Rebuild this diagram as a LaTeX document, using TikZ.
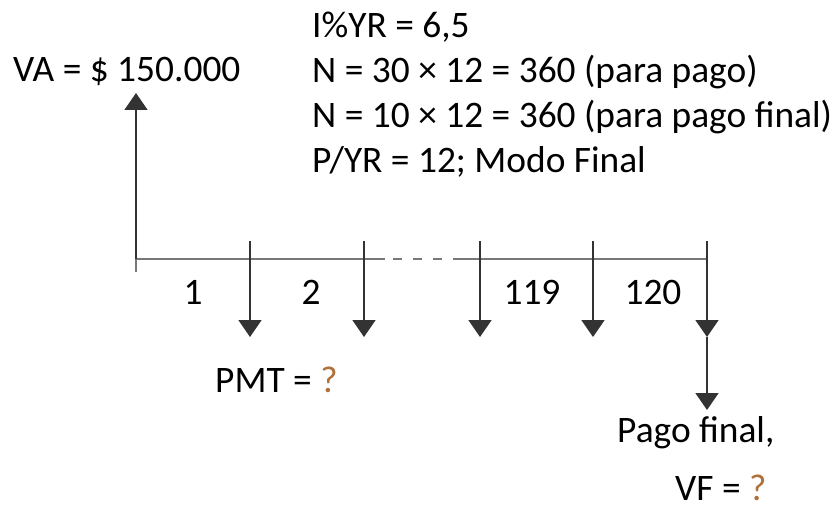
\documentclass[tikz,border=0pt]{standalone}
\usepackage{fontspec}
\setmainfont{Carlito}
\usepackage{xcolor}
\usetikzlibrary{arrows.meta,calc,positioning}

\definecolor{ejegris}{RGB}{120,120,120}
\definecolor{pregunta}{RGB}{176,112,58}

\begin{document}
\begin{tikzpicture}[x=1pt,y=-1pt,
    eje/.style={draw=ejegris,line width=2.6pt},
    flecha/.style={draw=black!80,line width=1.8pt,-{Triangle[length=17pt,width=23pt]}},
    texto/.style={inner sep=0pt,font=\fontsize{37.4}{45}\selectfont},
    periodo/.style={texto,anchor=base}]
  \useasboundingbox (0,0) rectangle (839,508);
  % --- eje de tiempo ---
  \coordinate (t0) at (136,259);
  \coordinate (t0b) at (136,272);
  \coordinate (c1) at (385,259);
  \coordinate (c2) at (457,259);
  \coordinate (t6) at (708,259);
  \draw[eje] (t0b) -- (t0) -- (c1);
  \draw[eje,dash pattern=on 9pt off 11pt] ($(c1)+(8,0)$) -- (c2);
  \draw[eje] (c2) -- (t6);
  % --- valor actual ---
  \node[texto,anchor=base west] (va) at (13,82) {VA = \$ 150.000};
  \coordinate (vatip) at (136,93);
  \draw[flecha] (t0) -- (vatip);
  % --- pagos ---
  \foreach \x/\nombre in {250/p1,364/p2,480/p3,593/p4,707/p5}{
    \coordinate (\nombre a) at (\x,241);
    \coordinate (\nombre b) at (\x,337);
    \draw[flecha] (\nombre a) -- (\nombre b);
  }
  \coordinate (vftip) at (707,410);
  \draw[flecha] (p5b) -- (vftip);
  % --- periodos ---
  \node[periodo] (n1) at (193,305) {1};
  \node[periodo] (n2) at (311,305) {2};
  \node[periodo] (n119) at (532,305) {119};
  \node[periodo] (n120) at (653,305) {120};
  % --- datos ---
  \node[texto,anchor=base west] (tasa) at (312,38) {I\%YR = 6,5};
  \node[texto,anchor=base west] (npago) at (312,83) {N = 30 × 12 = 360 (para pago)};
  \node[texto,anchor=base west] (nfinal) at (312,128) {N = 10 × 12 = 360 (para pago final)};
  \node[texto,anchor=base west] (modo) at (312,173) {P/YR = 12; Modo Final};
  % --- incognitas ---
  \node[texto,anchor=base west] (pmt) at (215,392) {PMT = \textcolor{pregunta}{?}};
  \node[texto,anchor=base west] (pago) at (617,442) {Pago final,};
  \node[texto,anchor=base west] (vf) at (675,500) {VF = \textcolor{pregunta}{?}};
\end{tikzpicture}
\end{document}
